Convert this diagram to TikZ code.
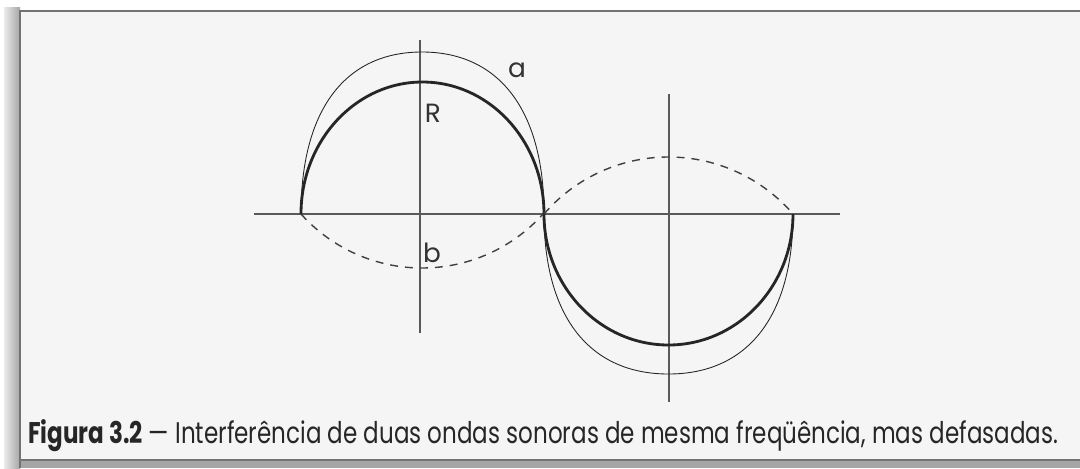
\documentclass[tikz,border=0pt]{standalone}
\usepackage{fontspec}
\usepackage{graphicx}
\setmainfont{Poppins}

\begin{document}
\begin{tikzpicture}[x=0.02cm,y=-0.02cm,
  axis/.style={draw=black!65,line width=0.75pt},
  wave/.style={draw=black!85,line width=0.5pt},
  result/.style={draw=black!85,line width=1.6pt},
  shifted/.style={draw=black!75,line width=0.8pt,dash pattern=on 4.5pt off 4pt},
  lbl/.style={font=\fontsize{15}{15}\selectfont,text=black!80,inner sep=0pt}]
  % page
  \useasboundingbox (0,0) rectangle (1080,468);
  \fill[white] (0,0) rectangle (1080,468);
  \shade[left color=black!8,right color=black!35] (4,7) rectangle (20,468);
  \fill[black!35] (20,460) rectangle (1080,468);
  \fill[black!4] (20,11) rectangle (1080,460);
  \draw[black!55,line width=0.9pt] (20,468) -- (20,11) -- (1080,11);
  \draw[black!55,line width=0.9pt] (20,460) -- (1080,460);

  % axes
  \coordinate (h1) at (254,214);
  \coordinate (h2) at (840,214);
  \coordinate (v1) at (420,40);
  \coordinate (v2) at (420,333);
  \coordinate (w1) at (669,94);
  \coordinate (w2) at (669,402);
  \draw[axis] (h1) -- (h2);
  \draw[axis] (v1) -- (v2);
  \draw[axis] (w1) -- (w2);

  % first pair
  \coordinate (p1) at (301,214);
  \coordinate (p2) at (544,214);
  \draw[shifted] (p1) arc[start angle=138.1,end angle=41.9,radius=162.6];
  \draw[result] (p1) arc[start angle=180,end angle=360,x radius=121.5,y radius=132];
  \draw[wave] (p1) .. controls (301,110) and (345,52) .. (422,52)
    .. controls (499,52) and (544,110) .. (p2);

  % second pair
  \coordinate (q2) at (793,214);
  \draw[shifted] (p2) arc[start angle=220.8,end angle=319.2,radius=164.5];
  \draw[result] (p2) arc[start angle=180,end angle=0,x radius=124.5,y radius=131];
  \draw[wave] (p2) .. controls (544,316) and (589,374) .. (668.5,374)
    .. controls (748,374) and (793,316) .. (q2);

  \node[lbl] (la) at (517,70) {a};
  \node[lbl] (lR) at (433,113) {R};
  \node[lbl] (lb) at (432,253) {b};

  \node[anchor=base west,inner sep=0pt,text=black!85,
    font=\fontsize{17}{17}\selectfont] (cap) at (28,443)
    {\resizebox{20.6cm}{\height}{\textbf{Figura 3.2} — Interferência de duas ondas sonoras de mesma freqüência, mas defasadas.}};
\end{tikzpicture}
\end{document}
